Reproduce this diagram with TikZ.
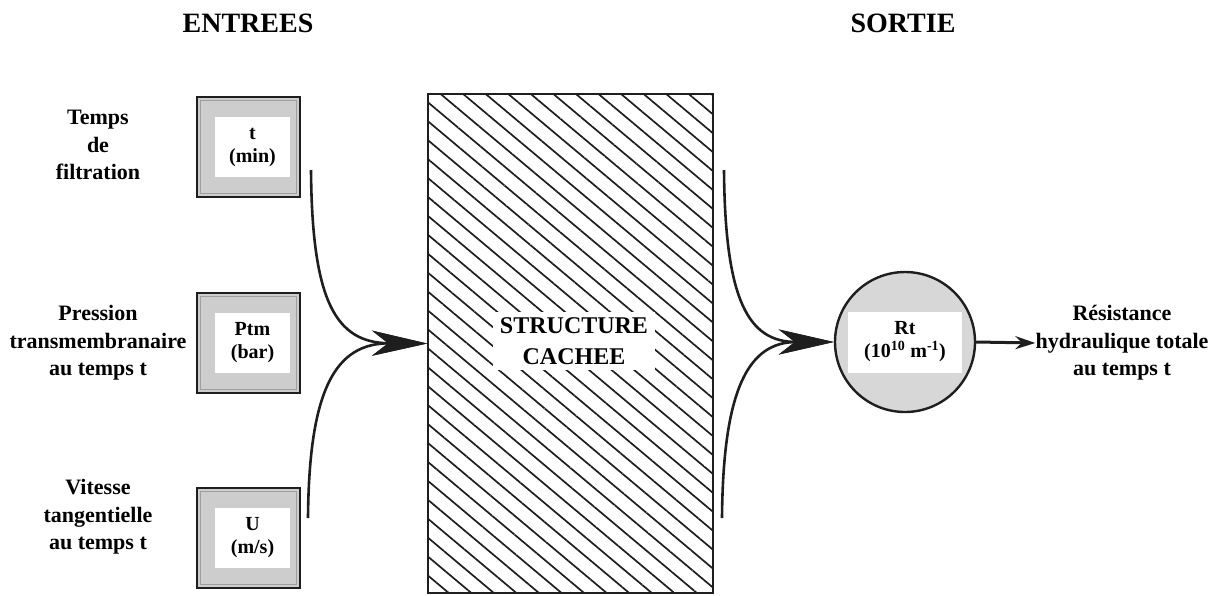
\documentclass[tikz,border=0pt]{standalone}
\usepackage{fontspec}
\setmainfont{Liberation Serif}
\usetikzlibrary{arrows.meta,patterns.meta}
\definecolor{boxgray}{RGB}{205,205,205}
\definecolor{inkgray}{RGB}{30,30,30}
\tikzset{inbox/.style={draw=inkgray,line width=2.6pt,fill=boxgray,minimum width=103pt,minimum height=100pt,inner sep=0pt},
 inlabel/.style={fill=white,minimum width=75pt,minimum height=60pt,align=center,inner sep=0pt,font=\fontsize{20}{23}\selectfont\bfseries},
 desc/.style={align=center,inner sep=0pt,font=\fontsize{22}{27.5}\selectfont\bfseries},
 heading/.style={inner sep=0pt,font=\fontsize{28}{30}\selectfont\bfseries},
 feed/.style={draw=inkgray,line width=2.6pt,-{Stealth[length=55pt,width=25pt,inset=16pt]}}}
\begin{document}
\begin{tikzpicture}[x=1pt,y=-1pt]
\useasboundingbox (0,0) rectangle (1225,595);
\node[heading] (entrees) at (248,23) {ENTREES};
\node[heading] (sortie) at (903,23) {SORTIE};
% entrees
\foreach \nm/\yy/\lab in {tbox/147/{t\\(min)},pbox/343/{Ptm\\(bar)},ubox/538/{U\\(m/s)}}{
 \node[inbox] (\nm) at (248.5,\yy) {};
 \draw[gray!75,line width=0.8pt] ([shift={(5pt,-5pt)}]\nm.north west) rectangle ([shift={(-5pt,5pt)}]\nm.south east);
 \node[inlabel] (\nm-lab) at (252.5,\yy) {\lab};
}
\node[desc] (tdesc) at (98,145) {Temps\\de\\filtration};
\node[desc] (pdesc) at (98,343) {Pression\\transmembranaire\\au temps t};
\node[desc] (udesc) at (98,517) {Vitesse\\tangentielle\\au temps t};
% structure cachee
\node[draw=inkgray,line width=2pt,minimum width=285pt,minimum height=499pt,inner sep=0pt,
 pattern={Lines[angle=-40,distance=14.5pt,line width=1.7pt]},pattern color=inkgray] (hidden) at (570.5,343.5) {};
\node[fill=white,minimum width=162pt,minimum height=58pt,align=center,inner sep=0pt,
 font=\fontsize{24}{31}\selectfont\bfseries] (hidlab) at (574,341) {STRUCTURE\\CACHEE};
% sortie
\node[circle,draw=inkgray,line width=2.4pt,fill=boxgray!80,minimum size=140pt,inner sep=0pt] (rt) at (905,342) {};
\node[inlabel,minimum width=114pt,minimum height=61pt] (rt-lab) at (905,342) {Rt\\(10\textsuperscript{10} m\textsuperscript{-1})};
\node[desc] (rdesc) at (1122,343) {R\'esistance\\hydraulique totale\\au temps t};
\coordinate (t-out) at (311,170);
\coordinate (u-out) at (308,518);
\coordinate (h-top) at (724,170);
\coordinate (h-bot) at (722,518);
\draw[feed] (t-out) .. controls (312,300) and (335,343) .. (hidden.west);
\draw[feed] (u-out) .. controls (309,390) and (335,343) .. (hidden.west);
\draw[feed] (h-top) .. controls (725,300) and (748,342) .. (rt.west);
\draw[feed] (h-bot) .. controls (723,390) and (748,342) .. (rt.west);
\draw[draw=inkgray,line width=3pt,-{Stealth[length=20pt,width=13pt]}] (rt.east) -- (rdesc.west);
\end{tikzpicture}
\end{document}
